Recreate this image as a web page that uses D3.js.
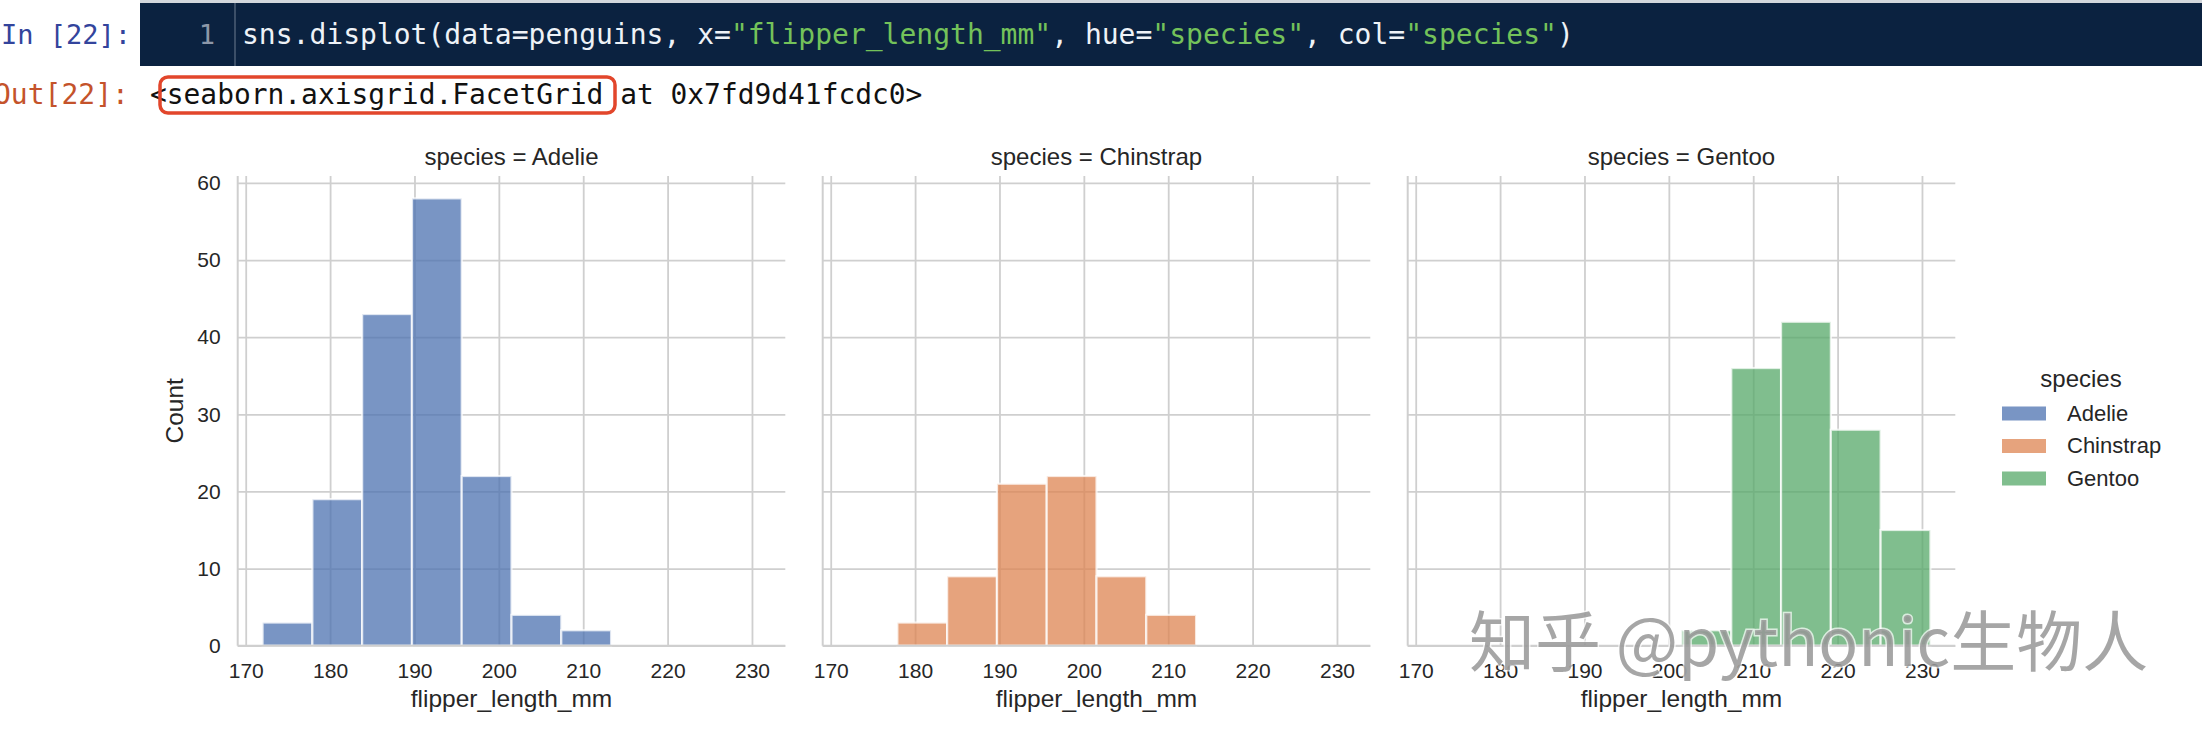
<!DOCTYPE html>
<html>
<head>
<meta charset="utf-8">
<script src="https://cdn.jsdelivr.net/npm/d3@7"></script>
<style>
  body { margin: 0; background: #fff; }
  svg { display: block; }
  .mono { font-family: "DejaVu Sans Mono", "Liberation Mono", monospace; }
  .sans { font-family: "Liberation Sans", Arial, Helvetica, sans-serif; fill: #262626; }
</style>
</head>
<body>
<div id="chart"></div>
<script>
// data
var species = ["Adelie", "Chinstrap", "Gentoo"];
var binEdges = [172, 177.9, 183.8, 189.7, 195.6, 201.5, 207.4, 213.3, 219.2, 225.1, 231];
var adelieCounts    = [3, 19, 43, 58, 22, 4, 2, 0, 0, 0];
var chinstrapCounts = [0, 3, 9, 21, 22, 9, 4, 0, 0, 0];
var gentooCounts    = [0, 0, 0, 0, 0, 2, 36, 42, 28, 15];
var xTicks = [170, 180, 190, 200, 210, 220, 230];
var yTicks = [0, 10, 20, 30, 40, 50, 60];
var colors = ["#4c72b0", "#dd8452", "#55a868"];

var counts = [adelieCounts, chinstrapCounts, gentooCounts];

var W = 2202, H = 742;
var panelLeft = 237.7, panelStep = 585, panelW = 547.6;
var plotTop = 176, plotH = 469.7;

var svg = d3.select("#chart").append("svg")
    .attr("width", W)
    .attr("height", H);

// ---- notebook header ----
var header = svg.append("g");
header.append("rect").attr("x", 140).attr("y", 0).attr("width", W - 140).attr("height", 3).attr("fill", "#d3d7dc");
header.append("rect").attr("x", 140).attr("y", 3).attr("width", W - 140).attr("height", 63).attr("fill", "#0b2240");
header.append("line").attr("x1", 235).attr("x2", 235).attr("y1", 3).attr("y2", 66)
    .attr("stroke", "#6f7d90").attr("stroke-width", 1);

header.append("text").attr("class", "mono").attr("x", 1).attr("y", 44)
    .attr("font-size", 27).attr("fill", "#33449c").text("In [22]:");
header.append("text").attr("class", "mono").attr("x", 207).attr("y", 44)
    .attr("font-size", 27).attr("fill", "#8d97a8").attr("text-anchor", "middle").text("1");

var codeParts = [
  ["sns.displot(data=penguins, x=", "#eef2f7"],
  ["\"flipper_length_mm\"", "#74c25a"],
  [", hue=", "#eef2f7"],
  ["\"species\"", "#74c25a"],
  [", col=", "#eef2f7"],
  ["\"species\"", "#74c25a"],
  [")", "#eef2f7"]
];
var code = header.append("text").attr("class", "mono").attr("x", 242).attr("y", 44)
    .attr("font-size", 28).attr("xml:space", "preserve");
codeParts.forEach(function(p){
  code.append("tspan").attr("fill", p[1]).text(p[0]);
});

header.append("text").attr("class", "mono").attr("x", -6).attr("y", 104)
    .attr("font-size", 28).attr("fill", "#c4532b").text("Out[22]:");
header.append("text").attr("class", "mono").attr("x", 150).attr("y", 104)
    .attr("font-size", 27.9).attr("fill", "#111").text("<seaborn.axisgrid.FacetGrid at 0x7fd9d41fcdc0>");
header.append("rect").attr("x", 160).attr("y", 77).attr("width", 455).attr("height", 36)
    .attr("rx", 8).attr("fill", "none").attr("stroke", "#e2462b").attr("stroke-width", 3.5);

// ---- facets ----
var x = d3.scaleLinear().domain([169.05, 233.95]).range([0, panelW]);
var y = d3.scaleLinear().domain([0, 60.9]).range([plotH, 0]);

species.forEach(function(sp, i){
  var g = svg.append("g")
      .attr("transform", "translate(" + (panelLeft + i * panelStep) + "," + plotTop + ")");

  // grid (x)
  var gx = g.append("g")
      .attr("transform", "translate(0," + plotH + ")")
      .call(d3.axisBottom(x).tickValues(xTicks).tickSize(-plotH).tickPadding(17).tickFormat(d3.format("d")));
  // grid (y)
  var gy = g.append("g")
      .call(d3.axisLeft(y).tickValues(yTicks).tickSize(-panelW).tickPadding(17)
        .tickFormat(i === 0 ? d3.format("d") : function(){ return ""; }));

  [gx, gy].forEach(function(a){
    a.select(".domain").remove();
    a.selectAll(".tick line").attr("stroke", "#cfcfcf").attr("stroke-width", 1.8);
    a.selectAll(".tick text")
      .attr("fill", "#262626")
      .attr("font-size", 21)
      .attr("font-family", "Liberation Sans, Arial, sans-serif");
  });

  // bars
  var bins = counts[i].map(function(c, k){
    return { x0: binEdges[k], x1: binEdges[k + 1], n: c };
  }).filter(function(d){ return d.n > 0; });

  g.append("g").selectAll("rect")
    .data(bins)
    .enter().append("rect")
      .attr("x", function(d){ return x(d.x0); })
      .attr("width", function(d){ return x(d.x1) - x(d.x0); })
      .attr("y", function(d){ return y(d.n); })
      .attr("height", function(d){ return plotH - y(d.n); })
      .attr("fill", colors[i])
      .attr("fill-opacity", 0.75)
      .attr("stroke", "#fff")
      .attr("stroke-opacity", 0.75)
      .attr("stroke-width", 2.2);

  // spines (left + bottom)
  g.append("line").attr("x1", 0).attr("x2", 0).attr("y1", 0).attr("y2", plotH)
    .attr("stroke", "#cfcfcf").attr("stroke-width", 2);
  g.append("line").attr("x1", 0).attr("x2", panelW).attr("y1", plotH).attr("y2", plotH)
    .attr("stroke", "#cfcfcf").attr("stroke-width", 2);

  // titles / labels
  g.append("text").attr("class", "sans")
    .attr("x", panelW / 2).attr("y", -11)
    .attr("text-anchor", "middle").attr("font-size", 24)
    .text("species = " + sp);
  g.append("text").attr("class", "sans")
    .attr("x", panelW / 2).attr("y", plotH + 61)
    .attr("text-anchor", "middle").attr("font-size", 24.5)
    .text("flipper_length_mm");

  if (i === 0) {
    g.append("text").attr("class", "sans")
      .attr("transform", "translate(-55," + (plotH / 2) + ") rotate(-90)")
      .attr("text-anchor", "middle").attr("font-size", 24.5)
      .text("Count");
  }
});

// ---- legend ----
var legend = svg.append("g").attr("transform", "translate(2002,0)");
legend.append("text").attr("class", "sans")
  .attr("x", 79).attr("y", 387).attr("text-anchor", "middle").attr("font-size", 24)
  .text("species");
species.forEach(function(sp, i){
  var yy = 420.5 + i * 32.5;
  legend.append("rect")
    .attr("x", 0).attr("y", yy - 14).attr("width", 44).attr("height", 14)
    .attr("fill", colors[i]).attr("fill-opacity", 0.75);
  legend.append("text").attr("class", "sans")
    .attr("x", 65).attr("y", yy).attr("font-size", 22)
    .text(sp);
});

// ---- watermark ----
svg.append("text")
  .attr("x", 1469).attr("y", 666)
  .attr("font-family", "Noto Sans CJK SC, sans-serif")
  .attr("font-size", 66)
  .attr("fill", "#969696")
  .attr("fill-opacity", 0.85)
  .attr("stroke", "#fff")
  .attr("stroke-opacity", 0.7)
  .attr("stroke-width", 3)
  .attr("paint-order", "stroke")
  .text("知乎 @pythonic生物人");
</script>
</body>
</html>
